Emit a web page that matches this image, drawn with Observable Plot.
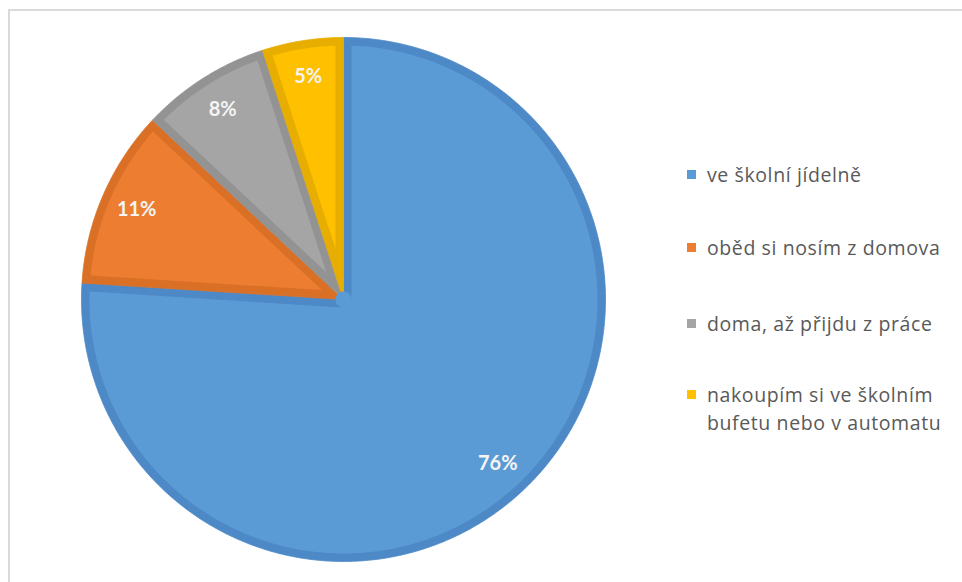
<!DOCTYPE html>
<html>
<head>
<meta charset="utf-8">
<script src="https://cdn.jsdelivr.net/npm/d3@7"></script>
<script src="https://cdn.jsdelivr.net/npm/@observablehq/plot@0.6"></script>
<style>
  html, body { margin: 0; padding: 0; background: #fff; overflow: hidden; }
  #wrap { position: relative; width: 962px; height: 582px; }
  #frame { position: absolute; left: 8px; top: 9px; width: 1000px; height: 600px;
           border-left: 2px solid #d9d9d9; border-top: 2px solid #d9d9d9; box-sizing: border-box; }
  #chart { position: absolute; left: 0; top: 0; }
  .leg { position: absolute; left: 687px; font-family: "Open Sans", sans-serif;
         font-size: 19.5px; letter-spacing: 0.6px; color: #595959; line-height: 28px; white-space: nowrap; }
  .leg .sw { position: absolute; left: 0; top: 9px; width: 9px; height: 9px; }
  .leg .tx { position: absolute; left: 20px; top: 0; }
</style>
</head>
<body>
<div id="wrap">
  <div id="frame"></div>
  <div id="chart"></div>
  <div id="legend"></div>
</div>
<script>
const categories = ["ve školní jídelně", "oběd si nosím z domova", "doma, až přijdu z práce", "nakoupím si ve školním bufetu nebo v automatu"];
const legendLines = [["ve školní jídelně"], ["oběd si nosím z domova"], ["doma, až přijdu z práce"], ["nakoupím si ve školním", "bufetu nebo v automatu"]];
const values = [76, 11, 8, 5];
const valueLabels = ["76%", "11%", "8%", "5%"];
const fills = ["#5B9BD5", "#ED7D31", "#A5A5A5", "#FFC000"];
const borders = ["#4C89C6", "#DA7026", "#939393", "#E7AD00"];

const W = 962, H = 582, CX = 343, CY = 299, R = 262;
const d = 8 / R; // border width in data units

const arcs = d3.pie().sort(null).value(v => v)(values);
const pt = (r, a) => ({x: r * Math.sin(a), y: r * Math.cos(a)});

function arcPoints(r, a0, a1) {
  const n = Math.max(4, Math.ceil(Math.abs(a1 - a0) / 0.01));
  const out = [];
  for (let i = 0; i <= n; i++) out.push(pt(r, a0 + (a1 - a0) * i / n));
  return out;
}
function wedge(a0, a1) {
  return [{x: 0, y: 0}, ...arcPoints(1, a0, a1), {x: 0, y: 0}];
}

const marks = [];
arcs.forEach((a, i) => {
  marks.push(Plot.line(wedge(a.startAngle, a.endAngle), {x: "x", y: "y", fill: borders[i], stroke: borders[i], strokeWidth: 0.8, curve: "linear"}));
});
arcs.forEach((a, i) => {
  const half = (a.endAngle - a.startAngle) / 2, mid = (a.startAngle + a.endAngle) / 2;
  const dr = Math.asin(d / (1 - d));
  const arc = arcPoints(1 - d, a.startAngle + dr, a.endAngle - dr);
  let pts;
  if (half <= Math.PI / 2) {
    const apex = pt(d / Math.sin(half), mid);
    pts = [apex, ...arc, apex];
  } else {
    const around = arcPoints(d, a.endAngle - Math.PI / 2, a.startAngle + Math.PI / 2 + 2 * Math.PI);
    pts = [...arc, ...around, arc[0]];
  }
  marks.push(Plot.line(pts, {x: "x", y: "y", fill: fills[i], stroke: "none", curve: "linear"}));
});

const labelData = arcs.map((a, i) => ({...pt(0.86, (a.startAngle + a.endAngle) / 2), label: valueLabels[i]}));
marks.push(Plot.text(labelData, {x: "x", y: "y", text: "label", fill: "#f4f4f4", fontSize: 20, fontWeight: "bold", fontFamily: "Lato, 'Open Sans', sans-serif"}));

const chart = Plot.plot({
  width: W, height: H,
  marginTop: 0, marginRight: 0, marginBottom: 0, marginLeft: 0,
  x: {domain: [-CX / R, (W - CX) / R], axis: null},
  y: {domain: [-(H - CY) / R, CY / R], axis: null},
  style: {background: "transparent"},
  marks
});
document.getElementById("chart").appendChild(chart);

// Legend
const legendTops = [160.5, 234, 310, 380.5];
const leg = document.getElementById("legend");
categories.forEach((c, i) => {
  const div = document.createElement("div");
  div.className = "leg";
  div.style.top = legendTops[i] + "px";
  const sw = document.createElement("div");
  sw.className = "sw";
  sw.style.background = fills[i];
  const tx = document.createElement("div");
  tx.className = "tx";
  tx.innerHTML = legendLines[i].join("<br>");
  div.appendChild(sw); div.appendChild(tx);
  leg.appendChild(div);
});
</script>
</body>
</html>
